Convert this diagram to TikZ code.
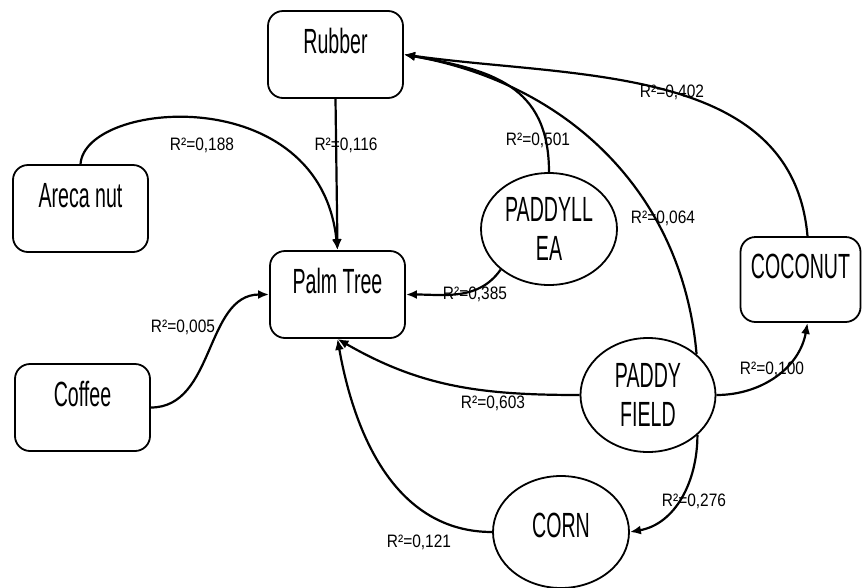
\documentclass[tikz,border=0pt]{standalone}
\usepackage{fontspec}
\setmainfont{Liberation Sans}
\newfontfamily\cropfont[FakeStretch=0.56]{Liberation Sans}
\newfontfamily\rsqfont[FakeStretch=0.86]{Liberation Sans}
\usetikzlibrary{shapes.geometric,arrows.meta}

\tikzset{
  crop/.style={draw, line width=1.8pt, rounded corners=15pt,
    minimum width=135pt, minimum height=87pt,
    font=\cropfont\fontsize{35}{40}\selectfont,
    text height=25pt, text depth=27pt},
  oval/.style={draw, ellipse, line width=1.8pt,
    minimum width=136pt, minimum height=112pt, inner sep=0pt,
    align=center, font=\cropfont\fontsize{35}{39}\selectfont},
  rel/.style={line width=2.2pt, -{Latex[length=11pt,width=9pt]}},
  rsq/.style={font=\rsqfont\fontsize{18}{18}\selectfont, inner sep=0pt}
}

\begin{document}
\begin{tikzpicture}[x=1pt, y=-1pt]
		\useasboundingbox (0,0) rectangle (862,587);

		% crops
		\node (rubber)  [crop] at (335.5,54.5)  {Rubber};
		\node (areca)   [crop] at (80.5,208.5)  {Areca nut};
		\node (palm)    [crop] at (337.5,294.5) {Palm Tree};
		\node (coffee)  [crop] at (82.5,407.5)  {Coffee};
		\node (coconut) [crop, minimum width=120pt, minimum height=85pt, inner xsep=4pt] at (800.5,279.5) {COCONUT};
		\node (paddylea) [oval] at (549,229) {PADDYLL\\EA};
		\node (paddy)    [oval, minimum width=135pt, minimum height=114pt] at (648,395) {PADDY\\FIELD};
		\node (corn)     [oval, text height=25pt, text depth=14pt] at (561,532) {CORN};

		% relations
		\draw[rel] (rubber.south) -- (palm.north);
		\draw[rel] (areca.north) .. controls (85,100) and (320,80) .. (palm.north);
		\draw[rel] (coffee.east) to[out=0,in=180] (palm.west);
		\draw[rel] (paddylea.220) to[out=235,in=0] (palm.east);
		\draw[rel] (paddylea.north) to[out=90,in=-10,looseness=1.2] (rubber.east);
		\draw[rel] (paddy.40) to[out=95,in=-10] (rubber.east);
		\draw[rel] ([xshift=7pt]coconut.north) to[out=95,in=-8] (rubber.east);
		\draw[rel] (paddy.west) to[out=180,in=-30] (palm.south);
		\draw[rel] (paddy.east) to[out=0,in=-100] ([xshift=7pt]coconut.south);
		\draw[rel] (paddy.321) to[out=-90,in=10] (corn.east);
		\draw[rel] (corn.west) to[out=180,in=-80] (palm.south);

		% R squared
		\node (r116) [rsq] at (346,145) {R²=0,116};
		\node (r188) [rsq] at (202,145) {R²=0,188};
		\node (r005) [rsq] at (183,327) {R²=0,005};
		\node (r385) [rsq] at (475,294) {R²=0,385};
		\node (r501) [rsq] at (538,140) {R²=0,501};
		\node (r402) [rsq] at (672,92)  {R²=0,402};
		\node (r064) [rsq] at (663,218) {R²=0,064};
		\node (r100) [rsq] at (772,369) {R²=0,100};
		\node (r603) [rsq] at (493,403) {R²=0,603};
		\node (r276) [rsq] at (694,501) {R²=0,276};
		\node (r121) [rsq] at (419,542) {R²=0,121};
\end{tikzpicture}
\end{document}
